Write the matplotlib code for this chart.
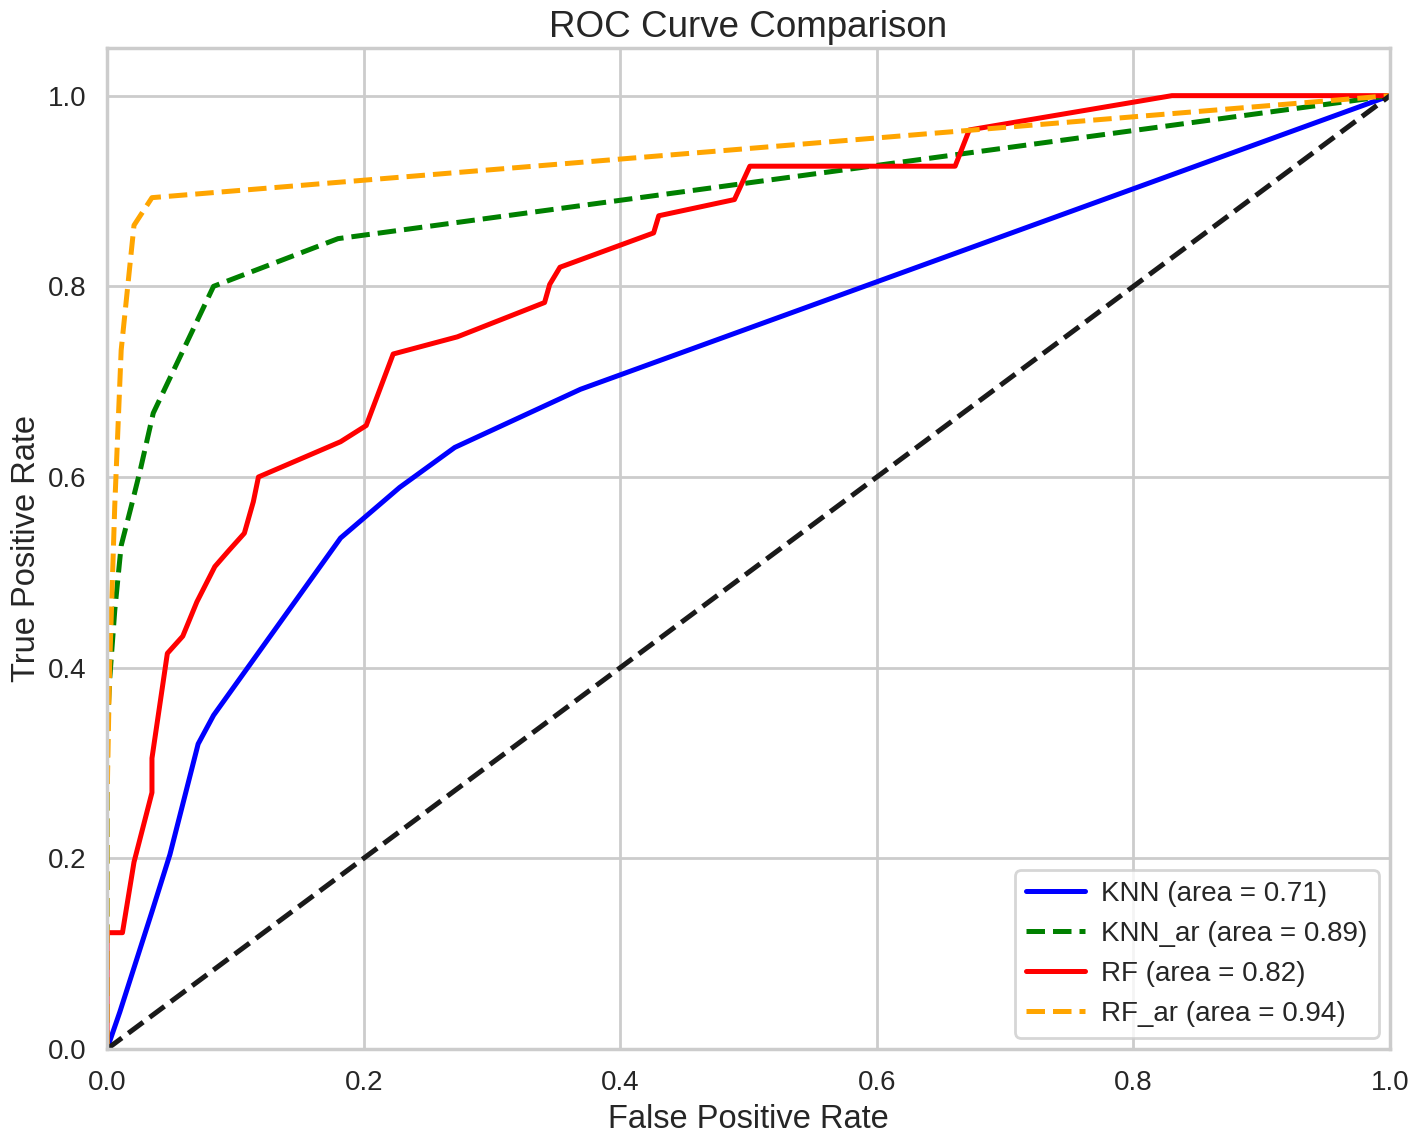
import numpy as np
import matplotlib.pyplot as plt
import seaborn as sns

# values
knn_fpr = [0.0, 0.010, 0.035, 0.049, 0.071, 0.083, 0.182, 0.228, 0.271, 0.369, 1.0]
knn_tpr = [0.0, 0.039, 0.144, 0.204, 0.320, 0.350, 0.536, 0.589, 0.631, 0.692, 1.0]

knn_ar_fpr = [0.0, 0.0, 0.002, 0.006, 0.011, 0.019, 0.026, 0.036, 0.083, 0.180, 1.0]
knn_ar_tpr = [0.0, 0.330, 0.387, 0.460, 0.528, 0.570, 0.608, 0.667, 0.800, 0.850, 1.0]

rf_fpr = [0.0, 0.0, 0.012, 0.021, 0.035, 0.035, 0.047, 0.059, 0.070, 0.084, 0.095,
          0.107, 0.114, 0.118, 0.182, 0.202, 0.223, 0.273, 0.341, 0.345, 0.353,
          0.426, 0.430, 0.489, 0.501, 0.661, 0.672, 0.830, 1.0]
rf_tpr = [0.0, 0.122, 0.122, 0.196, 0.269, 0.305, 0.415, 0.433, 0.469, 0.506, 0.523,
          0.541, 0.574, 0.600, 0.637, 0.654, 0.729, 0.747, 0.783, 0.802, 0.820,
          0.856, 0.874, 0.891, 0.926, 0.926, 0.964, 1.0, 1.0]

rf_ar_fpr = [0.0, 0.0, 0.002, 0.006, 0.011, 0.021, 0.035, 1.0]
rf_ar_tpr = [0.0, 0.260, 0.400, 0.570, 0.733, 0.864, 0.893, 1.0]

names = ['KNN', 'KNN_ar', 'RF', 'RF_ar']
aucs = [0.71, 0.89, 0.82, 0.94]

sns.set_theme(style='whitegrid')
plt.rcParams['font.family'] = ['Liberation Sans', 'DejaVu Sans']

fig, ax = plt.subplots(figsize=(14.18, 11.37), dpi=100)
fig.subplots_adjust(left=0.0755, right=0.9803, top=0.9578, bottom=0.0774)

lw = 3.6
ax.plot(knn_fpr, knn_tpr, color='blue', lw=lw, label=f'{names[0]} (area = {aucs[0]:.2f})')
ax.plot(knn_ar_fpr, knn_ar_tpr, color='green', lw=lw, ls='--', label=f'{names[1]} (area = {aucs[1]:.2f})')
ax.plot(rf_fpr, rf_tpr, color='red', lw=lw, label=f'{names[2]} (area = {aucs[2]:.2f})')
ax.plot(rf_ar_fpr, rf_ar_tpr, color='orange', lw=lw, ls='--', label=f'{names[3]} (area = {aucs[3]:.2f})')
ax.plot([0, 1], [0, 1], color='#1a1a1a', lw=lw, ls='--')

ax.set_xlim(0.0, 1.0)
ax.set_ylim(0.0, 1.05)
ax.set_xlabel('False Positive Rate', fontsize=23.5, color='#262626', labelpad=6)
ax.set_ylabel('True Positive Rate', fontsize=23.5, color='#262626', labelpad=4)
ax.set_title('ROC Curve Comparison', fontsize=26.5, color='#262626', pad=8)
ax.tick_params(labelsize=20, colors='#262626', pad=9)
ax.grid(True, color='#cccccc', lw=2)
for s in ax.spines.values():
    s.set_color('#cccccc')
    s.set_linewidth(2.5)

leg = ax.legend(loc='lower right', fontsize=20, frameon=True, handlelength=2.1,
                handletextpad=0.6, borderpad=0.4, borderaxespad=0.4)
leg.get_frame().set_edgecolor('#cccccc')
leg.get_frame().set_linewidth(2)

plt.savefig('out.png', dpi=100)
